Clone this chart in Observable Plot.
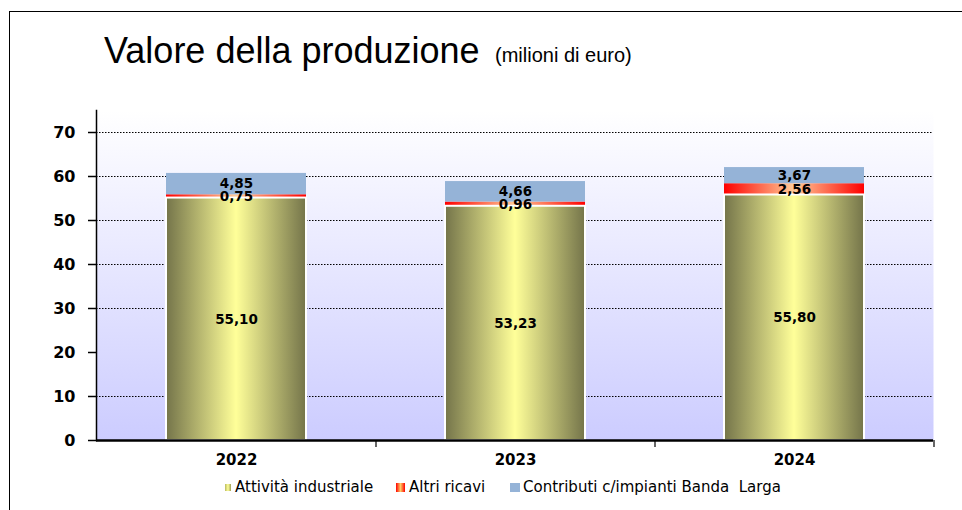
<!DOCTYPE html>
<html>
<head>
<meta charset="utf-8">
<script src="https://cdn.jsdelivr.net/npm/d3@7"></script>
<script src="https://cdn.jsdelivr.net/npm/@observablehq/plot@0.6"></script>
<style>
  html, body { margin: 0; padding: 0; background: #fff; }
  body { width: 962px; height: 510px; position: relative; overflow: hidden; }
  #frame { position: absolute; left: 9px; top: 11px; width: 1000px; height: 600px; border-left: 1px solid #000; border-top: 1px solid #000; }
  #head { position: absolute; left: 0; top: 0; }
  #chart { position: absolute; left: 0; top: 100px; }
  #legend { position: absolute; left: 0; top: 470px; }
</style>
</head>
<body>
<div id="frame"></div>
<svg id="head" width="962" height="80">
  <text x="104" y="63" font-family="Liberation Sans, Arial, sans-serif" font-size="36" fill="#000">Valore della produzione</text>
  <text x="495" y="62" font-family="Liberation Sans, Arial, sans-serif" font-size="20" fill="#000">(milioni di euro)</text>
</svg>
<div id="chart"></div>
<svg id="legend" width="962" height="40"></svg>
<script>
// ---- data ----
const years = ["2022", "2023", "2024"];
const series = ["Attività industriale", "Altri ricavi", "Contributi c/impianti Banda  Larga"];
const attivita = [55.10, 53.23, 55.80];
const altriRicavi = [0.75, 0.96, 2.56];
const contributi = [4.85, 4.66, 3.67];
const yTicks = [0, 10, 20, 30, 40, 50, 60, 70];
const gridValues = [10, 30, 40, 50, 60, 70];

const values = [attivita, altriRicavi, contributi];
const data = years.flatMap((year, i) => series.map((s, k) => ({year, series: s, value: values[k][i]})));
const fmt = v => v.toFixed(2).replace(".", ",");

const W = 962, H = 375, mL = 96, mR = 29, mT = 10, mB = 35;
const step = (W - mL - mR) / years.length;
const numFont = "DejaVu Sans, Verdana, sans-serif";

const chart = Plot.plot({
  width: W, height: H,
  marginLeft: mL, marginRight: mR, marginTop: mT, marginBottom: mB,
  style: {background: "transparent", color: "#000", overflow: "visible"},
  x: {domain: years, paddingInner: 0.5, paddingOuter: 0.25, label: null, axis: null},
  y: {domain: [0, 75], label: null, axis: null},
  color: {domain: series, range: ["url(#gOlive)", "url(#gRed)", "#95b3d7"]},
  marks: [
    Plot.frame({fill: "url(#gBg)", stroke: null}),
    Plot.ruleY(gridValues, {stroke: "#000", strokeWidth: 1, strokeDasharray: "1.5,1.5"}),
    Plot.barY(data, {x: "year", y: "value", z: "series", fill: "series", order: series}),
    Plot.barY(data, {x: "year", y: "value", z: "series", order: series, fill: "none", stroke: "white", strokeWidth: 2,
      strokeOpacity: d => d.series === series[0] ? 1 : 0}),
    Plot.text(data, Plot.stackY({x: "year", y: "value", z: "series", order: series,
      text: d => fmt(d.value), fill: "#000", fontFamily: numFont, fontSize: 13.5, fontWeight: "bold"})),
    Plot.axisY({ticks: yTicks, tickSize: 8, tickPadding: 13, tickFormat: d => d,
      fontFamily: numFont, fontSize: 16, fontWeight: "bold", label: null, strokeWidth: 1.5}),
    Plot.frame({anchor: "left", stroke: "#000", strokeWidth: 1.5}),
    Plot.axisX({tickSize: 0, tickPadding: 14, fontFamily: numFont, fontSize: 15, fontWeight: "bold", label: null}),
    Plot.ruleX(years, {x: d => d, dx: step / 2, y1: 0, y2: -1.6, stroke: "#000", strokeWidth: 1.2}),
    Plot.ruleY([0], {stroke: "#000", strokeWidth: 2.5})
  ]
});

const ns = "http://www.w3.org/2000/svg";
const defsHTML = `
  <linearGradient id="gBg" x1="0" y1="0" x2="0" y2="1">
    <stop offset="0" stop-color="#ffffff"/><stop offset="1" stop-color="#ccccff"/>
  </linearGradient>
  <linearGradient id="gOlive" x1="0" y1="0" x2="1" y2="0">
    <stop offset="0" stop-color="#74744a"/><stop offset="0.5" stop-color="#ffff99"/><stop offset="1" stop-color="#74744a"/>
  </linearGradient>
  <linearGradient id="gRed" x1="0" y1="0" x2="1" y2="0">
    <stop offset="0" stop-color="#ff0000"/><stop offset="0.5" stop-color="#ffcc99"/><stop offset="1" stop-color="#ff0000"/>
  </linearGradient>`;
const defs = document.createElementNS(ns, "defs");
defs.innerHTML = defsHTML;
chart.insertBefore(defs, chart.firstChild);
document.getElementById("chart").appendChild(chart);

// ---- legend ----
const legend = d3.select("#legend");
const ldefs = legend.append("defs");
ldefs.html(`
  <linearGradient id="lOlive" x1="0" y1="0" x2="1" y2="0">
    <stop offset="0" stop-color="#b8b860"/><stop offset="0.5" stop-color="#ffff99"/><stop offset="1" stop-color="#a0a055"/>
  </linearGradient>
  <linearGradient id="lRed" x1="0" y1="0" x2="1" y2="0">
    <stop offset="0" stop-color="#ff0000"/><stop offset="0.5" stop-color="#ffcc66"/><stop offset="1" stop-color="#ff0000"/>
  </linearGradient>`);
const legendItems = [
  {mx: 225, my: 14, mw: 6, mh: 7, fill: "url(#lOlive)", tx: 235},
  {mx: 396, my: 13, mw: 9, mh: 9, fill: "url(#lRed)", tx: 409},
  {mx: 510, my: 13, mw: 10, mh: 9, fill: "#95b3d7", tx: 523}
];
legendItems.forEach((it, i) => {
  legend.append("rect").attr("x", it.mx).attr("y", it.my).attr("width", it.mw).attr("height", it.mh).attr("fill", it.fill);
  legend.append("text").attr("x", it.tx).attr("y", 22).attr("font-family", numFont).attr("font-size", 15)
    .attr("fill", "#000").attr("xml:space", "preserve").style("white-space", "pre").text(series[i]);
});
</script>
</body>
</html>
